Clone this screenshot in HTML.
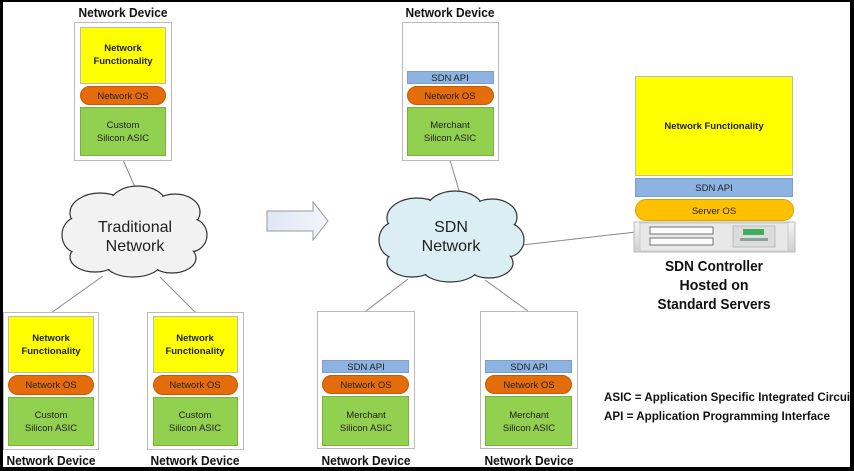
<!DOCTYPE html>
<html><head><meta charset="utf-8"><style>
html,body{margin:0;padding:0;background:#fff}
svg{display:block}
text{font-family:"Liberation Sans",sans-serif}
.b{font-weight:bold}
</style></head><body>
<svg width="854" height="471" viewBox="0 0 854 471" xmlns="http://www.w3.org/2000/svg">
<rect x="0" y="0" width="854" height="471" fill="#000"/>
<rect x="3" y="2" width="847" height="465" fill="#fff"/>

<defs>
<linearGradient id="srv" x1="0" y1="0" x2="0" y2="1"><stop offset="0" stop-color="#f4f4f4"/><stop offset="1" stop-color="#cfcfcf"/></linearGradient>
<linearGradient id="arr" x1="0" y1="0" x2="1" y2="0"><stop offset="0" stop-color="#dfe7f5"/><stop offset="1" stop-color="#f2f5fb"/></linearGradient>
</defs>

<g stroke="#888" stroke-width="1" fill="none">
<line x1="123" y1="160" x2="139" y2="196"/>
<line x1="103" y1="276" x2="51" y2="313"/>
<line x1="160" y1="277" x2="196" y2="313"/>
<line x1="450" y1="160" x2="460" y2="194"/>
<line x1="408" y1="279" x2="366" y2="311"/>
<line x1="485" y1="280" x2="528" y2="311"/>
<line x1="522" y1="245" x2="636" y2="232"/>
</g>

<g>
<g fill="#f2f2f2" stroke="#333" stroke-width="1.2">
<ellipse cx="100" cy="213" rx="30" ry="20"/><ellipse cx="138" cy="204" rx="28" ry="18"/><ellipse cx="175" cy="212" rx="25" ry="18"/>
<ellipse cx="190" cy="235" rx="17" ry="17"/><ellipse cx="172" cy="258" rx="24" ry="15"/><ellipse cx="133" cy="263" rx="28" ry="14"/>
<ellipse cx="95" cy="257" rx="25" ry="15"/><ellipse cx="78" cy="235" rx="16" ry="18"/>
</g>
<g fill="#f2f2f2">
<ellipse cx="100" cy="213" rx="29" ry="19"/><ellipse cx="138" cy="204" rx="27" ry="17"/><ellipse cx="175" cy="212" rx="24" ry="17"/>
<ellipse cx="190" cy="235" rx="16" ry="16"/><ellipse cx="172" cy="258" rx="23" ry="14"/><ellipse cx="133" cy="263" rx="27" ry="13"/>
<ellipse cx="95" cy="257" rx="24" ry="14"/><ellipse cx="78" cy="235" rx="15" ry="17"/>
<ellipse cx="134" cy="234" rx="58" ry="32"/>
</g>
</g>
<text x="135" y="232" font-size="16" text-anchor="middle" fill="#222">Traditional</text>
<text x="135" y="251" font-size="16" text-anchor="middle" fill="#222">Network</text>

<g transform="translate(317,5)">
<g fill="#daeef3" stroke="#333" stroke-width="1.2">
<ellipse cx="100" cy="213" rx="30" ry="20"/><ellipse cx="138" cy="204" rx="28" ry="18"/><ellipse cx="175" cy="212" rx="25" ry="18"/>
<ellipse cx="190" cy="235" rx="17" ry="17"/><ellipse cx="172" cy="258" rx="24" ry="15"/><ellipse cx="133" cy="263" rx="28" ry="14"/>
<ellipse cx="95" cy="257" rx="25" ry="15"/><ellipse cx="78" cy="235" rx="16" ry="18"/>
</g>
<g fill="#daeef3">
<ellipse cx="100" cy="213" rx="29" ry="19"/><ellipse cx="138" cy="204" rx="27" ry="17"/><ellipse cx="175" cy="212" rx="24" ry="17"/>
<ellipse cx="190" cy="235" rx="16" ry="16"/><ellipse cx="172" cy="258" rx="23" ry="14"/><ellipse cx="133" cy="263" rx="27" ry="13"/>
<ellipse cx="95" cy="257" rx="24" ry="14"/><ellipse cx="78" cy="235" rx="15" ry="17"/>
<ellipse cx="134" cy="234" rx="58" ry="32"/>
</g>
</g>
<text x="451" y="232" font-size="16" text-anchor="middle" fill="#222">SDN</text>
<text x="451" y="251" font-size="16" text-anchor="middle" fill="#222">Network</text>

<polygon points="267,211 313,211 313,202 328,221 313,240 313,231 267,231" fill="url(#arr)" stroke="#999" stroke-width="1"/>

<g font-size="9.5" text-anchor="middle" fill="#222">
<rect x="74.5" y="22.5" width="97" height="138" fill="#fff" stroke="#bbb"/>
<rect x="80.5" y="27.5" width="85" height="56" fill="#ffff00" stroke="#bbb"/>
<text x="123" y="51" class="b">Network</text><text x="123" y="64" class="b">Functionality</text>
<rect x="80.5" y="86.5" width="85" height="18" rx="9" fill="#e46c0a" stroke="#c55a00"/>
<text x="123" y="99">Network OS</text>
<rect x="80.5" y="107.5" width="85" height="48" fill="#92d050" stroke="#7ab03d"/>
<text x="123" y="128">Custom</text><text x="123" y="141">Silicon ASIC</text>

<rect x="3.5" y="312.5" width="95" height="137" fill="#fff" stroke="#bbb"/>
<rect x="8.5" y="316.5" width="85" height="56" fill="#ffff00" stroke="#bbb"/>
<text x="51" y="341" class="b">Network</text><text x="51" y="354" class="b">Functionality</text>
<rect x="8.5" y="375.5" width="85" height="19" rx="9.5" fill="#e46c0a" stroke="#c55a00"/>
<text x="51" y="388">Network OS</text>
<rect x="8.5" y="397.5" width="85" height="48" fill="#92d050" stroke="#7ab03d"/>
<text x="51" y="418">Custom</text><text x="51" y="431">Silicon ASIC</text>

<rect x="147.5" y="312.5" width="96" height="137" fill="#fff" stroke="#bbb"/>
<rect x="153.5" y="316.5" width="84" height="56" fill="#ffff00" stroke="#bbb"/>
<text x="195" y="341" class="b">Network</text><text x="195" y="354" class="b">Functionality</text>
<rect x="153.5" y="375.5" width="84" height="19" rx="9.5" fill="#e46c0a" stroke="#c55a00"/>
<text x="195" y="388">Network OS</text>
<rect x="153.5" y="397.5" width="84" height="48" fill="#92d050" stroke="#7ab03d"/>
<text x="195" y="418">Custom</text><text x="195" y="431">Silicon ASIC</text>

<rect x="402.5" y="22.5" width="96" height="138" fill="#fff" stroke="#bbb"/>
<rect x="407.5" y="71.5" width="86" height="12" fill="#8db3e2" stroke="#7a9fcc"/>
<text x="450" y="81">SDN API</text>
<rect x="407.5" y="86.5" width="86" height="18" rx="9" fill="#e46c0a" stroke="#c55a00"/>
<text x="450" y="99">Network OS</text>
<rect x="407.5" y="107.5" width="86" height="48" fill="#92d050" stroke="#7ab03d"/>
<text x="450" y="128">Merchant</text><text x="450" y="141">Silicon ASIC</text>

<rect x="317.5" y="311.5" width="97" height="137" fill="#fff" stroke="#bbb"/>
<rect x="322.5" y="360.5" width="86" height="12" fill="#8db3e2" stroke="#7a9fcc"/>
<text x="366" y="370">SDN API</text>
<rect x="322.5" y="375.5" width="86" height="18" rx="9" fill="#e46c0a" stroke="#c55a00"/>
<text x="366" y="388">Network OS</text>
<rect x="322.5" y="396.5" width="86" height="49" fill="#92d050" stroke="#7ab03d"/>
<text x="366" y="418">Merchant</text><text x="366" y="431">Silicon ASIC</text>

<rect x="480.5" y="311.5" width="97" height="137" fill="#fff" stroke="#bbb"/>
<rect x="485.5" y="360.5" width="86" height="12" fill="#8db3e2" stroke="#7a9fcc"/>
<text x="529" y="370">SDN API</text>
<rect x="485.5" y="375.5" width="86" height="18" rx="9" fill="#e46c0a" stroke="#c55a00"/>
<text x="529" y="388">Network OS</text>
<rect x="485.5" y="396.5" width="86" height="49" fill="#92d050" stroke="#7ab03d"/>
<text x="529" y="418">Merchant</text><text x="529" y="431">Silicon ASIC</text>

<rect x="635.5" y="76.5" width="157" height="99" fill="#ffff00" stroke="#bbb"/>
<text x="714" y="129" class="b">Network Functionality</text>
<rect x="635.5" y="178.5" width="157" height="18" fill="#8db3e2" stroke="#7a9fcc"/>
<text x="714" y="191">SDN API</text>
<rect x="635.5" y="199.5" width="158" height="21" rx="10.5" fill="#ffc000" stroke="#d9a000"/>
<text x="714" y="214">Server OS</text>
</g>

<rect x="634" y="222" width="161" height="30" fill="url(#srv)" stroke="#bbb"/>
<rect x="640" y="223" width="148" height="28" fill="#e8e8e8" stroke="#ccc"/>
<rect x="650" y="227" width="63" height="7" fill="#fafafa" stroke="#555" stroke-width="0.8"/>
<rect x="650" y="238" width="63" height="7" fill="#fafafa" stroke="#555" stroke-width="0.8"/>
<rect x="733" y="226" width="42" height="21" fill="#dcdcdc" stroke="#bbb"/>
<rect x="743" y="229" width="21" height="6" fill="#3fae5a"/>
<rect x="740" y="238" width="28" height="3" fill="#8fa0a0"/>

<g text-anchor="middle" font-size="15" class="b" fill="#111">
<text x="714" y="271" textLength="98" lengthAdjust="spacingAndGlyphs">SDN Controller</text>
<text x="714" y="290" textLength="69" lengthAdjust="spacingAndGlyphs">Hosted on</text>
<text x="714" y="309" textLength="113" lengthAdjust="spacingAndGlyphs">Standard Servers</text>
</g>

<g font-size="12" class="b" fill="#111">
<text x="604" y="401" textLength="250" lengthAdjust="spacingAndGlyphs">ASIC = Application Specific Integrated Circuit</text>
<text x="604" y="420" textLength="226" lengthAdjust="spacingAndGlyphs">API = Application Programming Interface</text>
</g>

<g font-size="12.5" class="b" fill="#111" text-anchor="middle">
<text x="123" y="17" textLength="89" lengthAdjust="spacingAndGlyphs">Network Device</text>
<text x="450" y="17" textLength="89" lengthAdjust="spacingAndGlyphs">Network Device</text>
<text x="51" y="465" textLength="89" lengthAdjust="spacingAndGlyphs">Network Device</text>
<text x="195" y="465" textLength="89" lengthAdjust="spacingAndGlyphs">Network Device</text>
<text x="366" y="465" textLength="89" lengthAdjust="spacingAndGlyphs">Network Device</text>
<text x="529" y="465" textLength="89" lengthAdjust="spacingAndGlyphs">Network Device</text>
</g>
<rect x="850" y="0" width="4" height="471" fill="#000"/>
<rect x="0" y="467" width="854" height="4" fill="#000"/>
</svg>
</body></html>
